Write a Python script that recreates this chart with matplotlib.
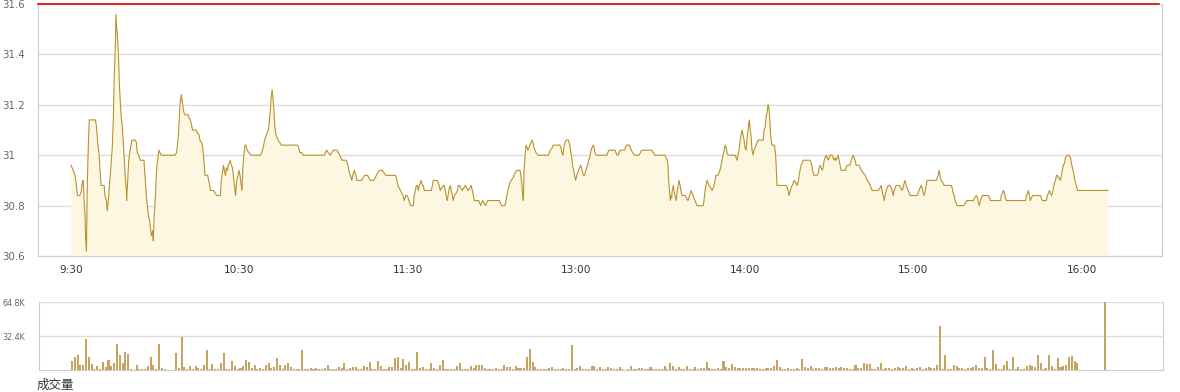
import matplotlib
matplotlib.use('Agg')
import matplotlib.pyplot as plt

# intraday price, minutes after 9:30 (lunch break compressed as in the source chart)
minutes = [
  0, 0.8, 1.4, 1.8, 2.3, 3.2, 3.7, 4.0, 4.3, 4.5,
  4.7, 5.0, 5.2, 5.5, 5.6, 5.8, 6.2, 6.5, 8.7, 9.0,
  9.3, 9.6, 10.0, 10.3, 10.7, 11.8, 12.1, 12.6, 12.9, 13.3,
  13.7, 14.0, 14.4, 14.7, 15.1, 15.4, 15.8, 16.0, 16.3, 16.5,
  16.9, 17.2, 17.6, 17.9, 18.3, 18.6, 19.0, 19.3, 19.7, 19.8,
  20.2, 20.5, 20.9, 21.2, 21.7, 22.9, 23.3, 23.6, 24.1, 24.6,
  26.0, 26.2, 26.6, 26.9, 27.3, 27.6, 28.0, 28.4, 28.7, 29.1,
  29.3, 29.6, 29.9, 30.3, 30.6, 31.0, 31.3, 31.7, 32.1, 37.0,
  37.6, 38.1, 38.5, 38.8, 39.3, 39.5, 39.9, 40.2, 40.6, 41.7,
  42.0, 42.5, 42.9, 43.3, 44.5, 45.0, 45.6, 45.9, 46.5, 46.9,
  47.4, 47.7, 48.7, 49.0, 49.4, 49.7, 50.7, 51.3, 51.9, 53.2,
  53.5, 53.9, 54.3, 54.6, 55.0, 55.3, 55.7, 56.0, 56.4, 56.7,
  57.1, 57.5, 57.8, 58.2, 58.6, 59.0, 59.5, 59.8, 60.2, 60.5,
  60.9, 61.2, 61.6, 62.0, 62.3, 62.7, 63.4, 64.1, 67.5, 67.9,
  68.4, 68.8, 69.2, 69.6, 69.9, 70.3, 70.6, 71.0, 71.3, 71.6,
  71.9, 72.3, 72.6, 73.0, 73.4, 73.7, 74.4, 74.8, 80.7, 81.1,
  81.5, 82.1, 82.6, 90.2, 90.6, 91.0, 91.6, 92.4, 92.8, 93.4,
  94.7, 95.2, 95.7, 96.1, 96.6, 98.0, 98.4, 98.8, 99.1, 99.5,
  100.0, 100.3, 100.9, 101.4, 101.8, 103.5, 104.5, 105.6, 106.6, 107.8,
  109.7, 110.9, 112.1, 115.6, 116.1, 116.4, 116.8, 117.3, 117.8, 118.2,
  118.7, 119.2, 119.7, 120.1, 120.6, 121.0, 121.9, 122.2, 122.6, 123.0,
  123.3, 123.7, 124.0, 124.4, 124.7, 125.1, 125.4, 125.8, 128.3, 128.7,
  129.0, 130.4, 130.8, 131.1, 131.5, 131.9, 132.6, 132.9, 133.3, 133.6,
  134.0, 134.4, 134.7, 135.1, 135.4, 135.8, 136.1, 136.5, 137.2, 137.6,
  137.9, 138.3, 139.3, 140.4, 141.5, 142.5, 142.9, 143.3, 143.6, 145.2,
  145.9, 146.6, 147.6, 148.4, 152.6, 153.3, 154.5, 154.9, 155.2, 155.6,
  156.0, 156.3, 156.7, 157.4, 158.1, 158.8, 159.9, 160.2, 160.6, 160.8,
  161.1, 161.3, 161.7, 162.0, 162.4, 162.7, 163.1, 163.4, 163.8, 164.1,
  164.5, 164.9, 165.2, 165.6, 166.3, 170.0, 170.7, 171.4, 171.7, 174.1,
  174.5, 174.8, 175.2, 175.5, 175.9, 176.3, 177.2, 177.6, 177.9, 178.3,
  178.6, 179.0, 179.3, 179.7, 180.1, 180.4, 180.8, 181.1, 181.5, 181.8,
  182.2, 182.5, 182.9, 183.3, 183.6, 184.0, 184.3, 184.7, 185.2, 185.9,
  186.3, 186.6, 187.0, 190.8, 191.5, 193.7, 194.4, 194.8, 195.5, 197.1,
  197.8, 198.8, 199.5, 200.6, 202.3, 203.2, 206.8, 207.9, 211.5, 212.3,
  212.6, 212.8, 213.2, 213.4, 213.7, 213.9, 214.1, 214.5, 214.7, 215.1,
  215.5, 215.8, 216.2, 216.5, 216.9, 217.2, 217.6, 218.7, 219.7, 220.8,
  221.5, 222.2, 222.9, 225.1, 225.4, 225.8, 226.1, 226.5, 227.2, 228.3,
  229.0, 229.7, 230.4, 231.1, 231.5, 231.8, 232.2, 232.6, 232.9, 233.3,
  233.6, 234.0, 236.5, 237.2, 237.5, 237.9, 238.3, 238.6, 239.0, 239.3,
  239.7, 240.0, 240.4, 240.7, 241.1, 241.5, 241.8, 242.2, 242.5, 242.9,
  243.2, 243.6, 244.0, 244.3, 244.7, 246.5, 246.8, 247.2, 247.5, 247.9,
  248.2, 248.5, 248.8, 249.2, 249.6, 250.5, 250.9, 251.1, 251.4, 254.7,
  255.4, 255.7, 256.4, 257.2, 257.5, 258.2, 258.6, 258.9, 259.3, 259.6,
  260.0, 260.4, 260.7, 263.2, 263.6, 263.9, 264.3, 264.6, 265.7, 266.1,
  266.4, 266.8, 267.1, 267.5, 267.8, 268.2, 268.5, 268.9, 269.3, 269.6,
  270.3, 271.0, 271.8, 272.1, 272.5, 273.2, 273.5, 273.9, 274.2, 275.7,
  276.0, 276.4, 277.4, 277.8, 278.2, 278.5, 278.9, 279.2, 279.6, 280.7,
  281.4, 282.1, 282.8, 283.5, 284.2, 284.9, 285.3, 287.4, 288.1, 288.5,
  288.8, 289.2, 289.6, 289.9, 290.3, 291.0, 291.7, 292.1, 292.4, 292.8,
  293.1, 293.5, 293.8, 294.9, 296.0, 296.7, 297.0, 297.4, 298.1, 298.8,
  301.3, 302.0, 302.7, 303.1, 303.4, 303.8, 304.2, 304.5, 304.9, 308.1,
  308.8, 309.1, 309.5, 309.8, 310.5, 310.9, 313.4, 313.8, 314.1, 314.5,
  314.8, 315.2, 315.5, 317.8, 318.5, 318.9, 321.4, 321.7, 322.4, 322.8,
  323.1, 323.5, 323.8, 324.2, 324.6, 326.7, 327.4, 331.0, 331.3, 331.7,
  332.0, 332.4, 332.7, 333.1, 339.9, 340.2, 340.6, 340.9, 341.3, 341.6,
  342.4, 345.2, 345.9, 347.3, 347.7, 348.1, 348.4, 348.8, 349.1, 349.5,
  349.8, 350.2, 350.6, 350.9, 351.3, 351.6, 352.0, 352.3, 352.7, 353.0,
  353.4, 353.8, 354.1, 354.8, 355.5, 355.9, 356.2, 356.6, 357.0, 357.3,
  357.7, 358.0, 358.4, 369.2]

price = [
  30.96, 30.94, 30.92, 30.89, 30.84, 30.84, 30.86, 30.89, 30.90, 30.87,
  30.81, 30.76, 30.67, 30.62, 30.70, 30.88, 31.05, 31.14, 31.14, 31.12,
  31.08, 31.04, 31.00, 30.95, 30.88, 30.88, 30.84, 30.82, 30.78, 30.82,
  30.88, 30.93, 30.98, 31.03, 31.15, 31.31, 31.44, 31.56, 31.50, 31.48,
  31.39, 31.29, 31.20, 31.15, 31.11, 31.05, 30.98, 30.92, 30.86, 30.82,
  30.90, 30.97, 31.01, 31.03, 31.06, 31.06, 31.05, 31.01, 31.00, 30.98,
  30.98, 30.94, 30.88, 30.83, 30.79, 30.76, 30.74, 30.70, 30.68, 30.70,
  30.66, 30.76, 30.80, 30.90, 30.96, 30.99, 31.02, 31.01, 31.00, 31.00,
  31.01, 31.06, 31.13, 31.20, 31.24, 31.22, 31.19, 31.17, 31.16, 31.16,
  31.15, 31.14, 31.12, 31.10, 31.10, 31.09, 31.08, 31.06, 31.05, 31.03,
  30.97, 30.92, 30.92, 30.90, 30.88, 30.86, 30.86, 30.85, 30.84, 30.84,
  30.90, 30.93, 30.96, 30.94, 30.92, 30.95, 30.94, 30.96, 30.97, 30.98,
  30.96, 30.95, 30.92, 30.88, 30.84, 30.90, 30.92, 30.94, 30.92, 30.89,
  30.86, 30.95, 31.01, 31.04, 31.04, 31.02, 31.01, 31.00, 31.00, 31.01,
  31.03, 31.05, 31.07, 31.08, 31.09, 31.10, 31.13, 31.18, 31.23, 31.26,
  31.23, 31.17, 31.11, 31.08, 31.07, 31.06, 31.05, 31.04, 31.04, 31.03,
  31.01, 31.01, 31.00, 31.00, 31.01, 31.02, 31.01, 31.00, 31.01, 31.02,
  31.02, 31.01, 31.00, 30.99, 30.98, 30.98, 30.97, 30.95, 30.93, 30.92,
  30.90, 30.92, 30.94, 30.92, 30.90, 30.90, 30.92, 30.92, 30.90, 30.90,
  30.94, 30.94, 30.92, 30.92, 30.90, 30.88, 30.87, 30.86, 30.85, 30.84,
  30.82, 30.84, 30.84, 30.83, 30.81, 30.80, 30.80, 30.84, 30.86, 30.88,
  30.88, 30.86, 30.88, 30.89, 30.90, 30.88, 30.88, 30.86, 30.86, 30.88,
  30.90, 30.90, 30.89, 30.88, 30.86, 30.87, 30.88, 30.88, 30.86, 30.84,
  30.82, 30.85, 30.87, 30.88, 30.86, 30.84, 30.82, 30.84, 30.85, 30.86,
  30.88, 30.88, 30.86, 30.88, 30.86, 30.88, 30.86, 30.84, 30.82, 30.82,
  30.80, 30.82, 30.80, 30.82, 30.82, 30.80, 30.80, 30.82, 30.84, 30.86,
  30.88, 30.89, 30.90, 30.91, 30.93, 30.94, 30.94, 30.92, 30.88, 30.84,
  30.82, 30.93, 31.00, 31.04, 31.03, 31.02, 31.03, 31.04, 31.05, 31.06,
  31.05, 31.03, 31.02, 31.01, 31.00, 31.00, 31.02, 31.03, 31.04, 31.04,
  31.03, 31.01, 31.00, 31.03, 31.05, 31.06, 31.06, 31.04, 31.02, 30.99,
  30.96, 30.94, 30.92, 30.90, 30.92, 30.93, 30.94, 30.95, 30.96, 30.95,
  30.93, 30.92, 30.92, 30.94, 30.95, 30.96, 30.98, 30.99, 31.02, 31.04,
  31.03, 31.01, 31.00, 31.00, 31.02, 31.02, 31.00, 31.00, 31.02, 31.02,
  31.04, 31.04, 31.02, 31.00, 31.00, 31.02, 31.02, 31.00, 31.00, 30.98,
  30.96, 30.90, 30.85, 30.82, 30.84, 30.83, 30.86, 30.88, 30.86, 30.84,
  30.82, 30.85, 30.88, 30.90, 30.88, 30.86, 30.84, 30.84, 30.82, 30.86,
  30.84, 30.82, 30.80, 30.80, 30.82, 30.86, 30.88, 30.90, 30.88, 30.86,
  30.88, 30.92, 30.92, 30.94, 30.96, 30.98, 31.00, 31.02, 31.04, 31.03,
  31.01, 31.00, 31.00, 30.98, 31.00, 31.02, 31.06, 31.08, 31.10, 31.08,
  31.06, 31.03, 31.02, 31.06, 31.10, 31.14, 31.11, 31.07, 31.02, 31.00,
  31.02, 31.03, 31.04, 31.05, 31.06, 31.06, 31.10, 31.11, 31.15, 31.17,
  31.20, 31.19, 31.15, 31.07, 31.04, 31.04, 31.00, 30.96, 30.88, 30.88,
  30.86, 30.84, 30.87, 30.89, 30.90, 30.89, 30.88, 30.89, 30.92, 30.94,
  30.96, 30.97, 30.98, 30.98, 30.97, 30.95, 30.93, 30.92, 30.92, 30.93,
  30.95, 30.96, 30.95, 30.94, 30.95, 30.98, 30.99, 31.00, 30.99, 30.98,
  31.00, 31.00, 30.98, 30.99, 30.98, 31.00, 30.98, 30.96, 30.94, 30.94,
  30.95, 30.96, 30.96, 30.98, 30.99, 31.00, 30.99, 30.98, 30.96, 30.96,
  30.94, 30.93, 30.92, 30.90, 30.89, 30.87, 30.86, 30.86, 30.87, 30.88,
  30.86, 30.84, 30.82, 30.84, 30.86, 30.88, 30.88, 30.87, 30.86, 30.84,
  30.86, 30.87, 30.88, 30.88, 30.86, 30.89, 30.90, 30.88, 30.86, 30.84,
  30.84, 30.86, 30.88, 30.87, 30.85, 30.84, 30.86, 30.88, 30.90, 30.90,
  30.92, 30.94, 30.92, 30.90, 30.89, 30.88, 30.88, 30.87, 30.85, 30.84,
  30.82, 30.81, 30.80, 30.80, 30.81, 30.82, 30.82, 30.83, 30.84, 30.83,
  30.81, 30.80, 30.82, 30.83, 30.84, 30.84, 30.82, 30.82, 30.84, 30.85,
  30.86, 30.85, 30.83, 30.82, 30.82, 30.84, 30.85, 30.86, 30.84, 30.82,
  30.84, 30.84, 30.82, 30.82, 30.84, 30.85, 30.86, 30.85, 30.84, 30.85,
  30.87, 30.89, 30.90, 30.92, 30.92, 30.91, 30.91, 30.90, 30.92, 30.94,
  30.96, 30.97, 30.99, 31.00, 31.00, 30.99, 30.97, 30.95, 30.93, 30.91,
  30.89, 30.88, 30.86, 30.86]

# volume per minute (thousands), minute 0 .. 368
volume_k = [
  8.3, 12.7, 14.6, 5.1, 5.1, 29.9, 12.7, 6.0, 1.3, 4.1,
  0.6, 7.9, 3.2, 9.8, 4.1, 7.0, 25.1, 14.6, 7.0, 17.5,
  15.6, 1.3, 0, 5.1, 1.3, 1.3, 1.3, 4.1, 12.7, 5.1,
  0.6, 25.1, 2.2, 1.3, 0, 0, 0, 16.5, 2.2, 31.8,
  3.2, 0.6, 4.1, 1.3, 4.1, 2.2, 0.6, 5.1, 19.4, 1.3,
  6.0, 0.6, 1.3, 7.0, 16.5, 1.3, 0.6, 8.9, 4.1, 1.3,
  2.2, 4.1, 9.8, 7.9, 2.2, 5.1, 1.3, 2.2, 0.6, 5.1,
  7.0, 2.2, 3.2, 11.7, 5.1, 1.3, 5.1, 7.0, 3.2, 1.3,
  1.3, 1.3, 19.4, 1.3, 0.6, 2.2, 1.3, 2.2, 1.3, 1.3,
  2.2, 5.1, 1.3, 0.6, 1.3, 3.2, 2.2, 7.0, 1.3, 2.2,
  3.2, 3.2, 1.3, 1.3, 4.1, 3.2, 7.9, 1.3, 0.6, 8.9,
  4.1, 1.3, 1.3, 3.2, 3.2, 11.7, 12.7, 1.9, 10.8, 5.1,
  7.9, 1.0, 0.6, 17.5, 1.9, 2.9, 1.0, 1.0, 7.0, 1.9,
  1.0, 5.1, 9.8, 1.0, 1.0, 1.0, 0.6, 3.8, 7.0, 1.0,
  1.0, 1.0, 3.8, 1.9, 5.1, 5.1, 5.1, 1.9, 1.0, 1.0,
  0.6, 1.9, 1.0, 1.0, 5.1, 2.9, 2.9, 1.0, 3.8, 1.9,
  1.9, 1.9, 12.7, 20.3, 7.9, 2.9, 1.0, 1.0, 1.0, 1.0,
  1.9, 2.9, 0.6, 1.0, 1.0, 1.9, 1.0, 1.0, 24.1, 1.0,
  1.9, 3.8, 0.6, 1.0, 1.0, 3.8, 3.8, 1.0, 2.9, 1.0,
  1.0, 2.9, 1.9, 1.0, 1.0, 2.9, 1.0, 0.3, 1.0, 3.8,
  1.0, 1.0, 1.9, 1.9, 1.0, 1.0, 2.9, 0.6, 1.0, 1.0,
  1.0, 3.8, 1.0, 7.0, 3.8, 1.0, 2.9, 1.0, 0.6, 3.8,
  1.0, 1.0, 2.9, 1.0, 1.9, 1.9, 7.9, 1.9, 1.0, 0.6,
  1.9, 1.0, 8.9, 2.9, 1.9, 6.0, 2.9, 1.9, 1.9, 1.9,
  1.9, 1.9, 1.9, 1.9, 1.9, 0.6, 1.0, 1.9, 1.9, 1.9,
  3.8, 9.8, 2.9, 1.0, 0.6, 1.9, 1.0, 1.0, 1.9, 1.0,
  10.8, 2.9, 1.9, 3.8, 1.0, 1.9, 1.9, 0.6, 2.9, 2.9,
  1.9, 1.9, 2.9, 1.9, 2.9, 1.9, 1.9, 0.6, 1.0, 4.8,
  1.9, 1.9, 7.0, 6.0, 6.0, 1.0, 1.0, 2.9, 7.0, 1.0,
  1.9, 1.9, 0.6, 1.9, 2.9, 1.9, 1.9, 3.8, 1.0, 1.9,
  1.0, 1.9, 2.9, 0.6, 1.9, 2.9, 1.9, 1.9, 4.8, 42.2,
  1.0, 14.6, 0.6, 1.0, 4.8, 3.8, 1.9, 1.9, 1.0, 1.9,
  1.9, 2.9, 4.8, 1.9, 1.9, 12.7, 1.9, 0.6, 19.4, 6.0,
  1.0, 1.0, 4.8, 8.9, 1.0, 12.7, 1.0, 2.9, 0.6, 1.0,
  3.8, 4.8, 3.8, 2.9, 14.6, 7.0, 1.0, 1.9, 14.6, 3.8,
  0.6, 11.8, 2.9, 3.8, 4.8, 12.7, 13.7, 8.9, 7.0, 0,
  0, 0, 0, 0, 0, 0, 0, 0, 64.8]

time_ticks = [0, 60, 120, 180, 240, 300, 360]
time_labels = ['9:30', '10:30', '11:30', '13:00', '14:00', '15:00', '16:00']
price_ticks = [30.6, 30.8, 31.0, 31.2, 31.4, 31.6]
price_labels = ['30.6', '30.8', '31', '31.2', '31.4', '31.6']
vol_ticks = [32.4, 64.8]
vol_labels = ['32.4K', '64.8K']

LINE = '#b8922c'
FILL = '#fdf6e1'
BAR = '#c4a460'
GRID = '#dddddd'
SPINE = '#cccccc'

W, H = 1180, 392
fig = plt.figure(figsize=(W / 100, H / 100), dpi=100)
ax = fig.add_axes([38 / W, 1 - 256 / H, 1124 / W, 252 / H])
axv = fig.add_axes([39 / W, 1 - 370 / H, 1124 / W, 68 / H])

# price panel
ax.fill_between(minutes, price, 30.6, color=FILL, lw=0, zorder=1)
ax.plot(minutes, price, color=LINE, lw=0.8, zorder=3)
ax.axhline(31.6, xmax=1121 / 1124, color='#e00000', lw=1.2, clip_on=False, zorder=4)
ax.set_xlim(-11.75, 388.5)
ax.set_ylim(30.6, 31.6)
ax.set_yticks(price_ticks, price_labels)
ax.set_xticks(time_ticks, time_labels)
ax.yaxis.grid(True, color=GRID, lw=1)
ax.set_axisbelow(True)
ax.tick_params(axis='y', length=0, pad=26, labelsize=7.4, labelcolor='#666666')
ax.tick_params(axis='x', length=0, pad=6.5, labelsize=7.6, labelcolor='#333333')
plt.setp(ax.get_yticklabels(), ha='left')
ax.spines['top'].set_visible(False)
for s in ('left', 'right', 'bottom'):
  ax.spines[s].set_color(SPINE)

# volume panel
axv.bar(range(len(volume_k)), volume_k, width=0.72, color=BAR, lw=0, zorder=3)
axv.set_xlim(-11.75, 388.5)
axv.set_ylim(0, 64.8)
axv.set_yticks(vol_ticks, vol_labels)
axv.set_xticks([])
axv.yaxis.grid(True, color=GRID, lw=1)
axv.tick_params(axis='y', length=0, pad=26.5, labelsize=5.8, labelcolor='#666666')
plt.setp(axv.get_yticklabels(), ha='left')
axv.spines['top'].set_visible(False)
for s in ('left', 'right', 'bottom'):
  axv.spines[s].set_color(SPINE)

fig.text(37 / W, 1 - 385 / H, '成交量', ha='left', va='center', fontsize=9,
         color='#333333', family=['Noto Sans CJK SC', 'DejaVu Sans'])

fig.savefig('out.png', dpi=100)
